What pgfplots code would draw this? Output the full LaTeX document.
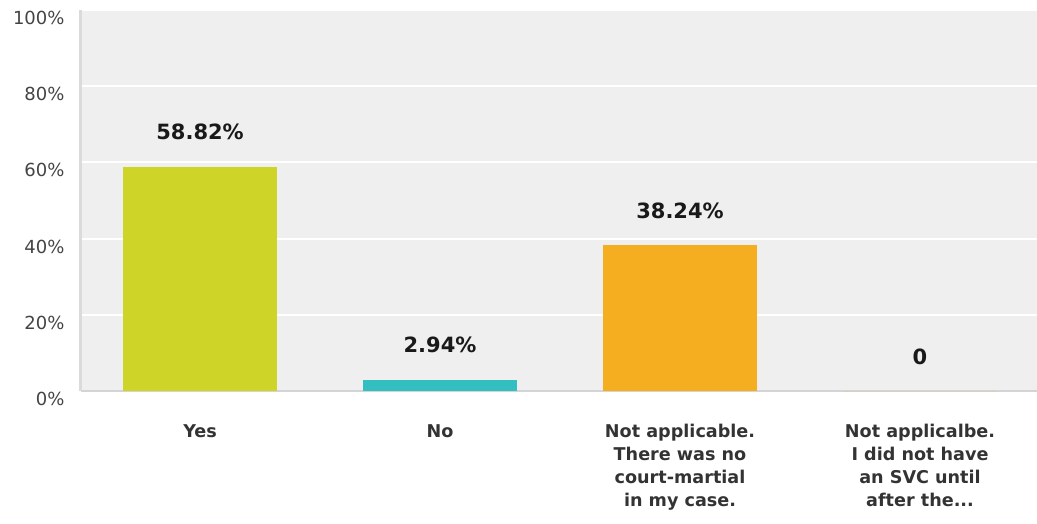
\documentclass[border=0pt]{standalone}
\usepackage{fontspec}
\setmainfont{DejaVu Sans}
\usepackage{pgfplots}
\pgfplotsset{compat=1.18}
\definecolor{bgc}{HTML}{EFEFEF}
\definecolor{cyes}{HTML}{CFD428}
\definecolor{cno}{HTML}{33BFBF}
\definecolor{cna}{HTML}{F5AE20}
\definecolor{tickc}{HTML}{444444}
\definecolor{labc}{HTML}{333333}
\newcommand{\threedots}{.\kern0pt.\kern0pt.}
\begin{document}
\begin{tikzpicture}[x=1pt,y=1pt]
\useasboundingbox (-81,-132) rectangle (956,391);
\begin{axis}[
  at={(0,0)}, anchor=south west,
  scale only axis, width=956pt, height=381pt,
  xmin=-0.496, xmax=3.4875, ymin=0, ymax=100,
  axis background/.style={fill=bgc},
  axis lines*=left,
  x axis line style={draw=black!17, line width=2pt},
  y axis line style={draw=black!14, line width=3pt},
  separate axis lines,
  ymajorgrids, grid style={white, line width=2pt},
  major tick length=0pt,
  ytick={0,20,40,60,80,100},
  yticklabels={0\%,20\%,40\%,60\%,80\%,100\%},
  yticklabel style={font=\fontsize{18}{20}\selectfont, text=tickc, yshift=-8pt, xshift=-13pt},
  xtick={0,1,2,3},
  xticklabels={Yes, No, {Not applicable.\\There was no\\court-martial\\in my case.}, {Not applicalbe.\\I did not have\\an SVC until\\after the\threedots}},
  xticklabel style={font=\bfseries\fontsize{17.6}{23}\selectfont, text=labc, align=center, anchor=north, yshift=-30pt},
  ybar, bar width=154pt, bar shift=0pt,
  nodes near coords, point meta=explicit symbolic,
  every node near coord/.append style={font=\bfseries\fontsize{21}{24}\selectfont, text=black!90, anchor=base, yshift=27pt},
  clip=false,
]
\addplot[fill=cyes, draw=none] coordinates {(0,58.82) [58.82\%]};
\addplot[fill=cno, draw=none] coordinates {(1,2.94) [2.94\%]};
\addplot[fill=cna, draw=none] coordinates {(2,38.24) [38.24\%]};
\addplot[fill=cna, draw=none] coordinates {(3,0) [0]};
\end{axis}
\end{tikzpicture}
\end{document}
